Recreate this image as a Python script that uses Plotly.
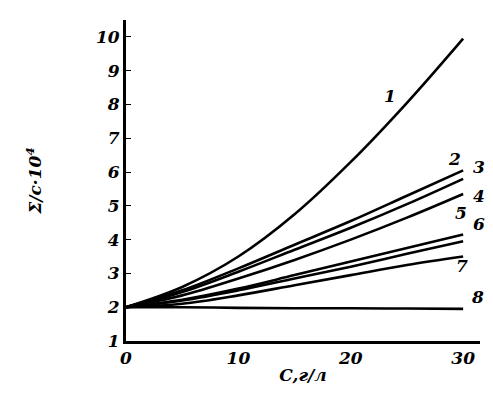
import plotly.graph_objects as go

# concentration, g/l
conc = [0, 5, 10, 15, 20, 25, 30]

# curves 1..8 (values of the ratio x 10^4)
curve_1 = [2.0, 2.6, 3.5, 4.75, 6.3, 8.05, 9.95]
curve_2 = [2.0, 2.5, 3.15, 3.85, 4.55, 5.3, 6.05]
curve_3 = [2.0, 2.45, 3.05, 3.7, 4.35, 5.05, 5.8]
curve_4 = [2.0, 2.35, 2.85, 3.4, 4.0, 4.65, 5.35]
curve_5 = [2.0, 2.22, 2.55, 2.95, 3.35, 3.75, 4.15]
curve_6 = [2.0, 2.2, 2.5, 2.85, 3.2, 3.58, 3.95]
curve_7 = [2.0, 2.1, 2.35, 2.65, 2.95, 3.25, 3.5]
curve_8 = [2.0, 2.0, 1.98, 1.97, 1.97, 1.96, 1.95]

curves = [curve_1, curve_2, curve_3, curve_4, curve_5, curve_6, curve_7, curve_8]
curve_names = ["1", "2", "3", "4", "5", "6", "7", "8"]

x_ticks = [0, 10, 20, 30]
y_ticks = [1, 2, 3, 4, 5, 6, 7, 8, 9, 10]

x_range = [0, 31.5]
y_range = [1, 10.5]

# label positions next to curve ends (in data units)
label_x = [24.2, 30.0, 32.1, 32.1, 30.5, 32.1, 30.6, 32.0]
label_y = [8.6, 6.4, 6.15, 5.3, 4.8, 4.1, 2.85, 1.95]

font_main = dict(family="DejaVu Serif", size=17, color="black",
                 weight="bold", style="italic")

fig = go.Figure()
for name, vals in zip(curve_names, curves):
    fig.add_trace(go.Scatter(x=conc, y=vals, mode="lines", name=name,
                             line=dict(color="black", width=2.6, shape="spline"),
                             showlegend=False))

# labels may sit right of the plot area, so place them in paper units
for name, lx, ly in zip(curve_names, label_x, label_y):
    px = (lx - x_range[0]) / (x_range[1] - x_range[0])
    py = (ly - y_range[0]) / (y_range[1] - y_range[0])
    fig.add_annotation(x=px, y=py, text=name, showarrow=False,
                       font=font_main, xref="paper", yref="paper")

fig.update_layout(
    width=493, height=401,
    margin=dict(l=118, r=21, t=12, b=68),
    paper_bgcolor="white", plot_bgcolor="white",
    font=font_main,
)
fig.update_xaxes(range=x_range, tickvals=x_ticks, showgrid=False,
                 zeroline=False, showline=True, linecolor="black", linewidth=3,
                 ticks="", tickfont=font_main,
                 title=dict(text="C,г/л", font=font_main, standoff=2))
fig.update_yaxes(range=y_range, tickvals=y_ticks, showgrid=False,
                 zeroline=False, showline=True, linecolor="black", linewidth=3,
                 ticks="inside", ticklen=5, tickwidth=1, tickcolor="black",
                 tickfont=font_main,
                 title=dict(text="Σ/c·10<sup>4</sup>", font=font_main, standoff=50))

fig.write_html("out.html")
